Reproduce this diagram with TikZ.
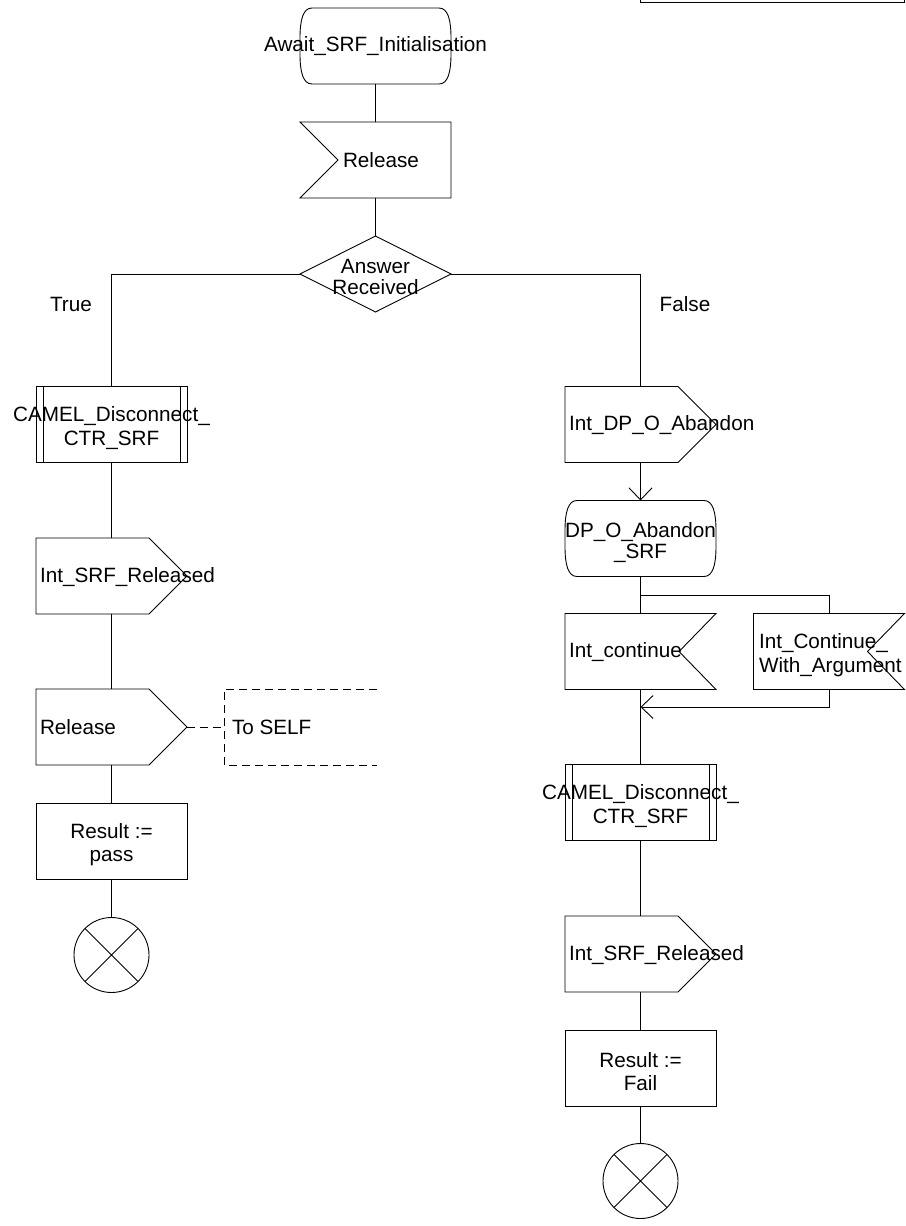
\documentclass[tikz,border=0pt]{standalone}
\usepackage{fontspec}
\setmainfont{Liberation Sans}
\usetikzlibrary{calc,arrows.meta}
\newcommand\sdlstate[1]{%
 \draw ($(#1.north west)+(12,0)$) -- ($(#1.north east)+(-12,0)$)
   .. controls ($(#1.north east)+(-3,0)$) and ($(#1.north east)+(0,12)$) .. ($(#1.north east)+(0,30)$)
   -- ($(#1.south east)+(0,-30)$)
   .. controls ($(#1.south east)+(0,-12)$) and ($(#1.south east)+(-3,0)$) .. ($(#1.south east)+(-12,0)$)
   -- ($(#1.south west)+(12,0)$)
   .. controls ($(#1.south west)+(3,0)$) and ($(#1.south west)+(0,-12)$) .. ($(#1.south west)+(0,-30)$)
   -- ($(#1.north west)+(0,30)$)
   .. controls ($(#1.north west)+(0,12)$) and ($(#1.north west)+(3,0)$) .. cycle;}
\newcommand\sdlinput[1]{%
 \draw (#1.north west) -- (#1.north east) -- (#1.south east) -- (#1.south west) -- ($(#1.west)+(38,0)$) -- cycle;}
\newcommand\sdlinputr[1]{%
 \draw (#1.north east) -- (#1.north west) -- (#1.south west) -- (#1.south east) -- ($(#1.east)+(-37,0)$) -- cycle;}
\newcommand\sdloutput[1]{%
 \draw (#1.north west) -- ($(#1.north east)+(-38,0)$) -- (#1.east) -- ($(#1.south east)+(-38,0)$) -- (#1.south west) -- cycle;}
\newcommand\sdlproc[1]{%
 \draw (#1.north west) rectangle (#1.south east);
 \draw ($(#1.north west)+(7,0)$) -- ($(#1.south west)+(7,0)$);
 \draw ($(#1.north east)+(-7,0)$) -- ($(#1.south east)+(-7,0)$);}
\newcommand\sdldecision[1]{\draw (#1.west) -- (#1.north) -- (#1.east) -- (#1.south) -- cycle;}
\newcommand\sdlstop[1]{\draw (#1.north west) -- (#1.south east) (#1.north east) -- (#1.south west);}
\begin{document}
\begin{tikzpicture}[x=1pt,y=-1pt,
  line width=0.9pt,
  every node/.style={font=\fontsize{20.7}{23.5}\selectfont, inner sep=0pt, outer sep=0pt},
  sdlbox/.style={minimum width=151pt, minimum height=76pt},
  txt/.style={align=center},
  ltxt/.style={align=left, anchor=west},
  arr/.style={-{Straight Barb[length=12pt,width=23pt]}},
  cmtline/.style={dash pattern=on 8pt off 5pt},
  stopc/.style={circle, draw, minimum size=75pt}
]
\useasboundingbox (0,0) rectangle (905,1226);
% top-right fragment
\draw (640.5,-2) -- (640.5,2) -- (904,2) -- (904,-2);
% centre column
\node[sdlbox] (st1) at (375.5,46) {};
\node[txt] (st1t) at (375.5,46) {Await\_SRF\_Initialisation};
\node[sdlbox] (in1) at (375.5,160) {};
\node[ltxt] (in1t) at (343,160) {Release};
\node[sdlbox] (dec) at (375.5,274) {};
\node[txt] (dect) at (375.5,276.5) {Answer\\[-2.5pt]Received};
\sdlstate{st1}
\sdlinput{in1}
\sdldecision{dec}
\node (tru) at (71,304) {True};
\node (fls) at (685,304) {False};
% left column
\node[sdlbox] (p1) at (111.5,424.5) {};
\node[txt] (p1t) at (111.5,428) {CAMEL\_Disconnect\_\\CTR\_SRF};
\node[sdlbox] (o2) at (111.5,576) {};
\node[ltxt] (o2t) at (40,577) {Int\_SRF\_Released};
\node[sdlbox] (o3) at (111.5,727) {};
\node[ltxt] (o3t) at (40,727) {Release};
\node[sdlbox, draw] (t1) at (111.5,841) {};
\node[txt] (t1t) at (111.5,844.5) {Result :=\\pass};
\node[stopc] (s1) at (111.5,955) {};
\sdlproc{p1}
\sdloutput{o2}
\sdloutput{o3}
\sdlstop{s1}
% comment
\node[ltxt] (cmt) at (232,727) {To SELF};
\coordinate (cb) at (224,727);
\coordinate (ctop) at (377,689);
\coordinate (cbot) at (377,765);
\draw[cmtline] (o3.east) -- (cb);
\draw[cmtline] (ctop) -- (cb |- ctop) -- (cb |- cbot) -- (cbot);
% right column
\node[sdlbox] (o1) at (640.5,424.5) {};
\node[ltxt] (o1t) at (569,425) {Int\_DP\_O\_Abandon};
\node[sdlbox] (st2) at (640.5,538.5) {};
\node[txt] (st2t) at (640.5,542.5) {DP\_O\_Abandon\\[-3pt]\_SRF};
\node[sdlbox] (in2) at (640.5,651.5) {};
\node[ltxt] (in2t) at (569,652) {Int\_continue};
\node[sdlbox] (in3) at (829,651.5) {};
\node[ltxt] (in3t) at (759,655) {Int\_Continue\_\\With\_Argument};
\node[sdlbox] (p2) at (640.5,802.5) {};
\node[txt] (p2t) at (640.5,806) {CAMEL\_Disconnect\_\\CTR\_SRF};
\node[sdlbox] (o4) at (640.5,954) {};
\node[ltxt] (o4t) at (569,955) {Int\_SRF\_Released};
\node[sdlbox, draw] (t2) at (640.5,1068) {};
\node[txt] (t2t) at (640.5,1071.5) {Result :=\\Fail};
\node[stopc] (s2) at (640.5,1181) {};
\sdloutput{o1}
\sdlstate{st2}
\sdlinputr{in2}
\sdlinputr{in3}
\sdlproc{p2}
\sdloutput{o4}
\sdlstop{s2}
% connectors
\draw (st1.south) -- (in1.north);
\draw (in1.south) -- (dec.north);
\draw (dec.west) -| (p1.north);
\draw (dec.east) -| (o1.north);
\draw (p1.south) -- (o2.north);
\draw (o2.south) -- (o3.north);
\draw (o3.south) -- (t1.north);
\draw (t1.south) -- (s1.north);
\draw[arr] (o1.south) -- (st2.north);
\coordinate (br) at (640.5,595);
\coordinate (jn) at (640.5,707);
\draw (st2.south) -- (in2.north);
\draw (br) -| (in3.north);
\draw (in2.south) -- (p2.north);
\draw[arr] (in3.south) |- (jn);
\draw (p2.south) -- (o4.north);
\draw (o4.south) -- (t2.north);
\draw (t2.south) -- (s2.north);
\end{tikzpicture}
\end{document}
